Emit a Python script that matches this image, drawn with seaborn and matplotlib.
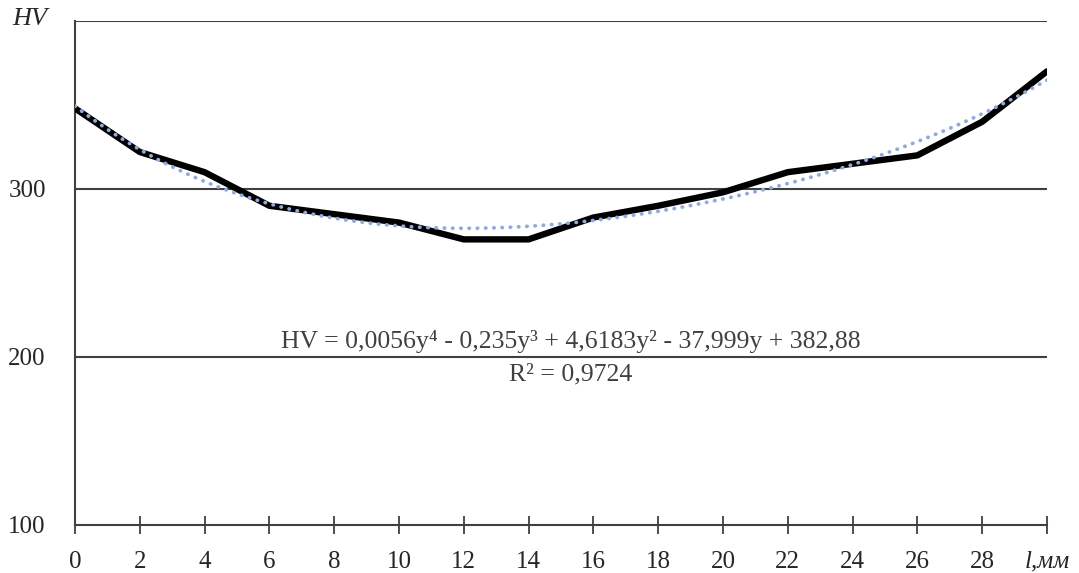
import numpy as np
import pandas as pd
import matplotlib
matplotlib.use("Agg")
import matplotlib.pyplot as plt
import seaborn as sns

# Data
x_vals = [0, 2, 4, 6, 8, 10, 12, 14, 16, 18, 20, 22, 24, 26, 28, 30]
hv_vals = [348, 322, 310, 290, 285, 280, 270, 270, 283, 290, 298, 310, 315, 320, 340, 370]
x_tick_labels = ["0", "2", "4", "6", "8", "10", "12", "14", "16", "18", "20", "22", "24", "26", "28", "l,мм"]
y_ticks = [100, 200, 300, 400]
y_tick_labels = ["100", "200", "300", ""]
eq_text = "HV = 0,0056y⁴ - 0,235y³ + 4,6183y² - 37,999y + 382,88"
r2_text = "R² = 0,9724"

sns.set_style("white")
plt.rcParams['font.family'] = ['Liberation Serif', 'DejaVu Serif']

df = pd.DataFrame({"x": x_vals, "hv": hv_vals})
idx = np.arange(1, len(x_vals) + 1)
coef = np.polyfit(idx, hv_vals, 4)
fine_idx = np.linspace(1, len(x_vals), 200)
trend = pd.DataFrame({"x": (fine_idx - 1) * 2, "hv": np.polyval(coef, fine_idx)})

fig = plt.figure(figsize=(10.79, 5.73), dpi=100)
ax = fig.add_axes([0.0695, 0.0838, 0.9008, 0.8796])

grid_c = "#404040"
for yv in [200, 300, 400]:
    ax.axhline(yv, color=grid_c, lw=1.5, zorder=1)

sns.lineplot(data=df, x="x", y="hv", ax=ax, color="black", lw=4.6, zorder=3)
sns.lineplot(data=trend, x="x", y="hv", ax=ax, color="#8FAADC", lw=2.7,
             linestyle=(0, (0.1, 2.1)), dash_capstyle="round", zorder=4)

ax.set_xlim(0, 30)
ax.set_ylim(100, 400)
ax.set_xticks(x_vals)
ax.set_xticklabels(x_tick_labels, fontsize=18)
ax.set_yticks(y_ticks)
ax.set_yticklabels(y_tick_labels, fontsize=18)
lbls = ax.get_xticklabels()
lbls[-1].set_fontstyle("italic")
ax.set_xlabel("")
ax.set_ylabel("")

for s in ["top", "right"]:
    ax.spines[s].set_visible(False)
for s in ["left", "bottom"]:
    ax.spines[s].set_color(grid_c)
    ax.spines[s].set_linewidth(1.5)

ax.tick_params(axis="x", which="both", direction="inout", length=13, width=1.3,
               color=grid_c, pad=12, bottom=True)
ax.tick_params(axis="y", length=0, pad=21)

ax.text(12 / 1079, 1 - 19 / 573, "HV", transform=fig.transFigure, fontsize=19,
        fontstyle="italic", ha="left", va="center")

ax.text(15.3, 209, eq_text, fontsize=18.5, ha="center", va="center", color="#404040")
ax.text(15.3, 189.5, r2_text, fontsize=18.5, ha="center", va="center", color="#404040")

fig.savefig("out.png", dpi=100, facecolor="white")
